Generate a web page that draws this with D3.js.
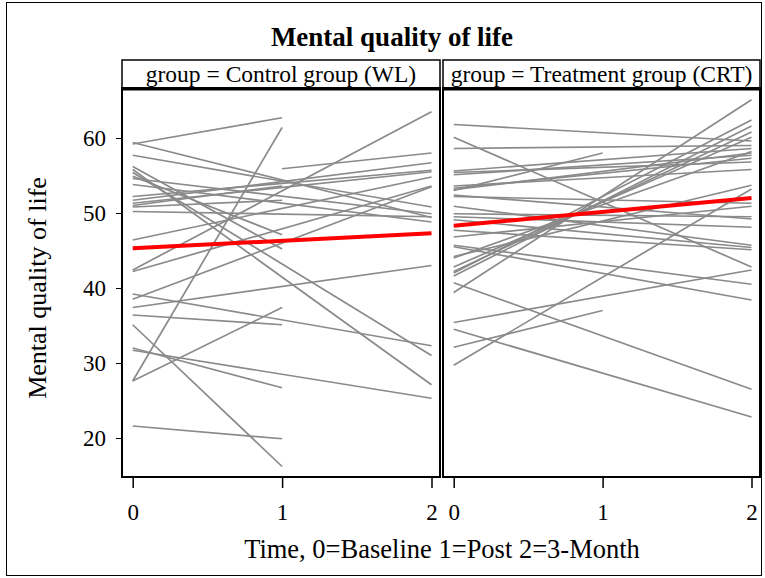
<!DOCTYPE html>
<html>
<head>
<meta charset="utf-8">
<script src="https://cdn.jsdelivr.net/npm/d3@7"></script>
<style>
  body { margin: 0; background: #fff; }
  text { font-family: "Liberation Serif", "Times New Roman", serif; fill: #000; }
</style>
</head>
<body>
<div id="chart"></div>
<script>
// subject lines: [startTime, startValue, endTime, endValue]
const controlLines = [
  [0, 59.2, 1, 62.7], [0, 27.6, 1, 61.4], [0, 56.2, 1, 45.2], [0, 54.9, 1, 47.1],
  [0, 55.4, 2, 31.0], [0, 55.8, 2, 27.1], [0, 59.4, 2, 49.4], [0, 57.7, 2, 50.8],
  [0, 53.8, 2, 48.8], [0, 54.6, 2, 49.9], [0, 42.4, 2, 63.5], [0, 38.5, 2, 53.5],
  [0, 46.4, 2, 54.8], [0, 37.4, 2, 43.0], [0, 39.2, 2, 32.3], [0, 31.7, 2, 25.3],
  [0, 52.2, 2, 55.7], [0, 51.7, 2, 56.7], [0, 51.3, 2, 55.5], [0, 50.2, 2, 49.5],
  [0, 50.8, 1, 51.7], [0, 42.2, 2, 53.6], [1, 55.9, 2, 58.0], [0, 36.4, 1, 35.1],
  [0, 35.1, 1, 16.2], [0, 27.6, 1, 37.4], [0, 32.0, 1, 26.7], [0, 21.6, 1, 19.9],
  [0, 51.0, 1, 53.6]
];
const treatLines = [
  [0, 61.8, 2, 59.6], [0, 60.1, 2, 42.8], [0, 58.6, 2, 59.0], [0, 29.7, 2, 53.2],
  [0, 34.5, 2, 22.8], [0, 40.7, 2, 26.5], [0, 35.4, 2, 42.4], [0, 39.4, 2, 65.1],
  [0, 42.0, 2, 62.4], [0, 41.6, 2, 61.6], [0, 42.2, 2, 60.8], [0, 44.0, 2, 58.2],
  [0, 45.5, 2, 38.4], [0, 45.7, 2, 40.5], [0, 47.7, 2, 45.1], [0, 49.5, 2, 48.1],
  [0, 49.9, 2, 49.5], [0, 50.9, 2, 45.7], [0, 52.2, 2, 51.3], [0, 52.4, 2, 49.2],
  [0, 53.1, 2, 58.0], [0, 53.3, 2, 57.3], [0, 53.6, 2, 55.8], [0, 55.1, 2, 57.7],
  [0, 55.4, 2, 56.8], [0, 55.6, 2, 58.6], [0, 44.2, 2, 53.7], [0, 42.8, 2, 60.1],
  [0, 46.8, 2, 50.9], [0, 49.1, 2, 45.4], [0, 32.1, 1, 37.0], [0, 53.0, 1, 58.0]
];
const controlMean = [45.3, 47.3];
const treatMean = [48.3, 52.0];
const panelTitles = ["group = Control group (WL)", "group = Treatment group (CRT)"];
const timeTicks = [0, 1, 2];
const valueTicks = [20, 30, 40, 50, 60];

const W = 765, H = 578;
const svg = d3.select("#chart").append("svg")
    .attr("width", W).attr("height", H);

// outer frame
svg.append("rect")
    .attr("x", 6.5).attr("y", 2.5).attr("width", 755).attr("height", 573)
    .attr("fill", "none").attr("stroke", "#000").attr("stroke-width", 1);

svg.append("text")
    .attr("x", 392).attr("y", 46)
    .attr("text-anchor", "middle")
    .style("font-size", "27px").style("font-weight", "bold")
    .text("Mental quality of life");

const y = d3.scaleLinear().domain([20, 60]).range([438, 138]);

const panels = [
  { left: 122, right: 440, lines: controlLines, mean: controlMean, title: panelTitles[0] },
  { left: 443, right: 760, lines: treatLines, mean: treatMean, title: panelTitles[1] }
];
const plotTop = 88, plotBottom = 477, headTop = 60;

panels.forEach((p, i) => {
  const x = d3.scaleLinear().domain([0, 2]).range([p.left + 10.7, p.right - 8.5]);
  const g = svg.append("g");

  // header strip
  g.append("rect")
      .attr("x", p.left).attr("y", headTop).attr("width", p.right - p.left).attr("height", plotTop - headTop)
      .attr("fill", "#fff").attr("stroke", "#000").attr("stroke-width", 1.5);
  g.append("text")
      .attr("x", (p.left + p.right) / 2).attr("y", 82)
      .attr("text-anchor", "middle")
      .style("font-size", "23.5px")
      .text(p.title);

  const clip = "clip" + i;
  svg.append("clipPath").attr("id", clip)
    .append("rect").attr("x", p.left).attr("y", plotTop).attr("width", p.right - p.left).attr("height", plotBottom - plotTop);

  const plot = g.append("g").attr("clip-path", `url(#${clip})`);
  plot.selectAll("line.subj")
    .data(p.lines)
    .enter().append("line")
      .attr("class", "subj")
      .attr("x1", d => x(d[0])).attr("y1", d => y(d[1]))
      .attr("x2", d => x(d[2])).attr("y2", d => y(d[3]))
      .attr("stroke", "#8a8a8a").attr("stroke-width", 1.7);

  plot.append("line")
      .attr("x1", x(0)).attr("y1", y(p.mean[0]))
      .attr("x2", x(2)).attr("y2", y(p.mean[1]))
      .attr("stroke", "#ff0000").attr("stroke-width", 4);

  // panel frame
  g.append("rect")
      .attr("x", p.left).attr("y", plotTop).attr("width", p.right - p.left).attr("height", plotBottom - plotTop)
      .attr("fill", "none").attr("stroke", "#000").attr("stroke-width", 2);
  g.append("line")
      .attr("x1", p.left).attr("x2", p.right).attr("y1", plotTop + 1).attr("y2", plotTop + 1)
      .attr("stroke", "#000").attr("stroke-width", 3);

  // x axis
  const xAxis = d3.axisBottom(x).tickValues(timeTicks).tickFormat(d3.format("d")).tickSize(11).tickPadding(16);
  const ax = g.append("g").attr("transform", `translate(0,${plotBottom})`).call(xAxis);
  ax.select(".domain").remove();
  ax.selectAll("line").attr("stroke", "#000").attr("stroke-width", 1.5);
  ax.selectAll("text").style("font-size", "23px").attr("font-family", null);
});

// y axis
const yAxis = d3.axisLeft(y).tickValues(valueTicks).tickSize(6).tickPadding(10);
const ay = svg.append("g").attr("transform", "translate(122,0)").call(yAxis);
ay.select(".domain").remove();
ay.selectAll("line").attr("stroke", "#000").attr("stroke-width", 1);
ay.selectAll("text").style("font-size", "23px").attr("font-family", null);

svg.append("text")
    .attr("transform", "translate(46,288) rotate(-90)")
    .attr("text-anchor", "middle")
    .style("font-size", "26px")
    .text("Mental quality of life");

svg.append("text")
    .attr("x", 442).attr("y", 558)
    .attr("text-anchor", "middle")
    .style("font-size", "26.5px")
    .text("Time, 0=Baseline 1=Post 2=3-Month");
</script>
</body>
</html>
